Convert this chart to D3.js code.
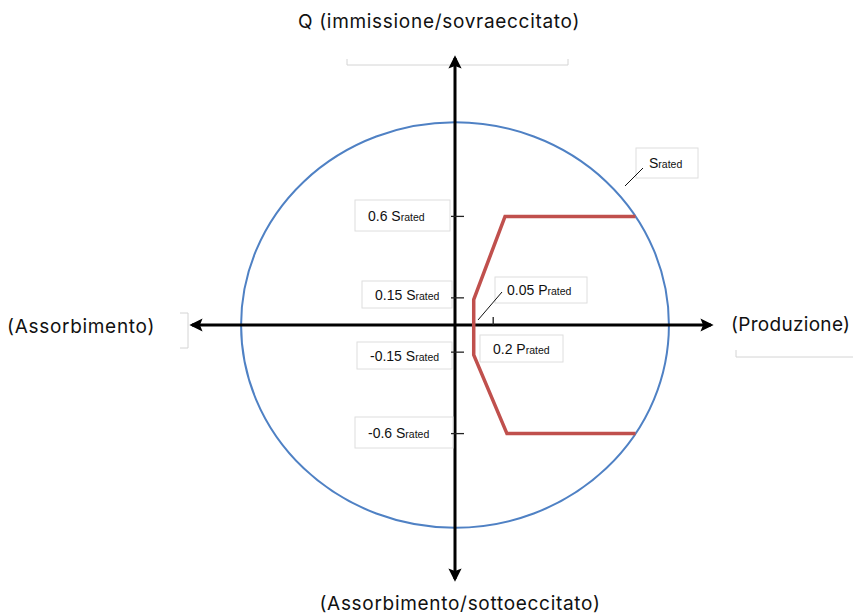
<!DOCTYPE html>
<html>
<head>
<meta charset="utf-8">
<script src="https://cdn.jsdelivr.net/npm/d3@7"></script>
<style>
  body { margin: 0; background: #fff; }
  svg { display: block; }
</style>
</head>
<body>
<script>
// capability curve (P, Q in units of S rated)
var curveP = [0.945, 0.262, 0.098, 0.098, 0.272, 0.945];
var curveQ = [0.6, 0.6, 0.14, -0.165, -0.6, -0.6];
var circleR = 1.12;               // S rated circle
var qTicks = [0.6, 0.15, -0.15, -0.6];
var qLabels = ["0.6 S", "0.15 S", "-0.15 S", "-0.6 S"];
var pTicks = [0.2];
var pLabels = ["0.2 P"];

var width = 853, height = 614;
var cx = 455, cy = 325;

var svg = d3.select("body").append("svg")
    .attr("width", width).attr("height", height);

var x = d3.scaleLinear().domain([0, 1]).range([cx, cx + 191]);
var y = d3.scaleLinear().domain([0, 1]).range([cy, cy - 181]);

var defs = svg.append("defs");
defs.append("marker")
    .attr("id", "arr")
    .attr("viewBox", "0 0 10 10")
    .attr("refX", 8).attr("refY", 5)
    .attr("markerWidth", 4.4).attr("markerHeight", 4.4)
    .attr("orient", "auto")
  .append("path")
    .attr("d", "M0,0 L10,5 L0,10 L2,5 Z")
    .attr("fill", "#000");
defs.append("marker")
    .attr("id", "arrS")
    .attr("viewBox", "0 0 10 10")
    .attr("refX", 2).attr("refY", 5)
    .attr("markerWidth", 4.4).attr("markerHeight", 4.4)
    .attr("orient", "auto")
  .append("path")
    .attr("d", "M10,0 L0,5 L10,10 L8,5 Z")
    .attr("fill", "#000");

// faint stray lines (leftover text box edges)
var grey = "#d4d4d4";
svg.append("path").attr("d", "M347,59 L347,65 L568,65 L568,59")
    .attr("fill", "none").attr("stroke", grey);
svg.append("path").attr("d", "M180,313 L188,313 L188,348 L180,348")
    .attr("fill", "none").attr("stroke", grey);
svg.append("path").attr("d", "M736,350 L736,357 L853,357")
    .attr("fill", "none").attr("stroke", grey);

// S rated circle
svg.append("ellipse")
    .attr("cx", x(0)).attr("cy", y(0))
    .attr("rx", x(circleR) - x(0))
    .attr("ry", y(0) - y(circleR))
    .attr("fill", "none")
    .attr("stroke", "#4f81c4")
    .attr("stroke-width", 2);

// axes (double-headed)
function axisLine(x1, y1, x2, y2) {
  svg.append("line")
      .attr("x1", x1).attr("y1", y1).attr("x2", x2).attr("y2", y2)
      .attr("stroke", "#000").attr("stroke-width", 3)
      .attr("marker-start", "url(#arrS)")
      .attr("marker-end", "url(#arr)");
}
axisLine(192, y(0), 711, y(0));
axisLine(x(0), 58, x(0), 579);

// capability curve
var pts = curveP.map(function(p, i) { return [x(p), y(curveQ[i])]; });
svg.append("path")
    .attr("d", d3.line()(pts))
    .attr("fill", "none")
    .attr("stroke", "#c0504d")
    .attr("stroke-width", 3.5)
    .attr("stroke-linejoin", "miter");

// label box helper: text "main" + small "rated"
function labelBox(bx, by, bw, bh, main, tx) {
  var g = svg.append("g");
  g.append("rect")
      .attr("x", bx).attr("y", by).attr("width", bw).attr("height", bh)
      .attr("fill", "#fff").attr("stroke", "#dedede").attr("stroke-width", 1);
  var t = g.append("text")
      .attr("x", tx).attr("y", by + bh / 2 + 5)
      .attr("font-family", "Liberation Sans, Arial, sans-serif")
      .attr("font-size", 14).attr("fill", "#111");
  t.append("tspan").text(main);
  t.append("tspan").attr("font-size", 10.5).text("rated");
}

// Q ticks
var qBox = [[355, 200, 95, 31, 368], [362, 281, 90, 27, 375],
            [357, 342, 95, 27, 370], [355, 417, 98, 31, 368]];
qTicks.forEach(function(q, i) {
  var b = qBox[i];
  labelBox(b[0], b[1], b[2], b[3], qLabels[i], b[4]);
  svg.append("line")
      .attr("x1", x(0) - 4).attr("x2", x(0) + 9)
      .attr("y1", y(q)).attr("y2", y(q))
      .attr("stroke", "#222").attr("stroke-width", 1.3);
});

// P tick
pTicks.forEach(function(p, i) {
  svg.append("line")
      .attr("x1", x(p)).attr("x2", x(p))
      .attr("y1", y(0) - 8).attr("y2", y(0))
      .attr("stroke", "#222").attr("stroke-width", 1.3);
  labelBox(480, 335, 83, 27, pLabels[i], 493);
});

// 0.05 P rated
labelBox(495, 277, 92, 26, "0.05 P", 507);
svg.append("line").attr("x1", 502).attr("y1", 292).attr("x2", 478).attr("y2", 320)
    .attr("stroke", "#111").attr("stroke-width", 1);

// S rated
var sg = svg.append("g");
sg.append("rect").attr("x", 636).attr("y", 148).attr("width", 62).attr("height", 30)
    .attr("fill", "#fff").attr("stroke", "#dedede");
var st = sg.append("text").attr("x", 649).attr("y", 168)
    .attr("font-family", "Liberation Sans, Arial, sans-serif")
    .attr("font-size", 14).attr("fill", "#111");
st.append("tspan").text("S");
st.append("tspan").attr("font-size", 10.5).text("rated");
svg.append("line").attr("x1", 625).attr("y1", 186).attr("x2", 643).attr("y2", 168)
    .attr("stroke", "#111").attr("stroke-width", 1);

// axis titles
var tf = "Inter, Lato, sans-serif";
function title(tx, ty, anchor, s, ls) {
  svg.append("text").attr("x", tx).attr("y", ty).attr("text-anchor", anchor)
      .attr("font-family", tf).attr("font-size", 19)
      .attr("letter-spacing", ls).attr("fill", "#111")
      .text(s);
}
title(439, 28, "middle", "Q (immissione/sovraeccitato)", 0.7);
title(460, 610, "middle", "(Assorbimento/sottoeccitato)", 0.7);
title(7, 333, "start", "(Assorbimento)", 0.7);
title(731, 331, "start", "(Produzione)", 0.3);
</script>
</body>
</html>
